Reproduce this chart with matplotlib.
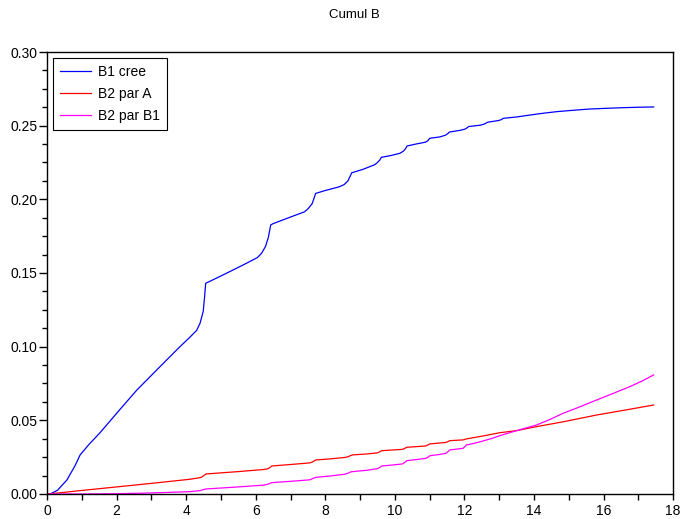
import matplotlib
matplotlib.use("Agg")
import matplotlib.pyplot as plt
from matplotlib.ticker import MultipleLocator, FormatStrFormatter

plt.rcParams['font.family'] = ['Liberation Sans', 'DejaVu Sans']

# B1 cree (blue)
x_b1 = [0.0, 0.09, 0.3, 0.57, 0.8, 0.95, 1.2, 1.52, 2.10, 2.58, 3.25, 3.8, 4.11, 4.30, 4.40,
        4.49, 4.53, 4.56, 5.0, 5.6, 6.05, 6.17, 6.28, 6.36, 6.43, 6.5, 7.0, 7.40, 7.50, 7.62,
        7.68, 7.72, 8.0, 8.40, 8.54, 8.65, 8.73, 8.76, 9.1, 9.42, 9.50, 9.57, 9.61, 9.9, 10.15,
        10.25, 10.31, 10.35, 10.6, 10.88, 10.95, 11.00, 11.3, 11.46, 11.53, 11.57, 11.87, 12.01,
        12.08, 12.12, 12.45, 12.56, 12.62, 12.66, 12.98, 13.06, 13.12, 13.5, 13.88, 14.25,
        14.65, 15.1, 15.6, 16.1, 16.56, 17.0, 17.44]
y_b1 = [0.0, 0.0, 0.0025, 0.0095, 0.019, 0.0265, 0.0335, 0.0415, 0.0575, 0.0705, 0.0865,
        0.0995, 0.1065, 0.111, 0.116, 0.124, 0.134, 0.143, 0.148, 0.155, 0.1605, 0.1635, 0.168,
        0.174, 0.1826, 0.1835, 0.188, 0.1915, 0.1935, 0.197, 0.201, 0.204, 0.206, 0.2085, 0.210,
        0.2125, 0.2165, 0.218, 0.2205, 0.2235, 0.2250, 0.2268, 0.2285, 0.2298, 0.2313, 0.2328,
        0.2345, 0.2362, 0.2375, 0.2388, 0.2398, 0.2414, 0.2424, 0.2436, 0.2448, 0.2457, 0.2468,
        0.2476, 0.2486, 0.2494, 0.2503, 0.2510, 0.2517, 0.2523, 0.2535, 0.2541, 0.2550, 0.2559,
        0.2572, 0.2584, 0.2595, 0.2604, 0.2613, 0.2618, 0.2622, 0.2625, 0.2627]

# B2 par A (red)
x_b2a = [0.0, 0.04, 1.0, 2.0, 3.0, 4.11, 4.40, 4.47, 4.52, 4.57, 5.5, 6.22, 6.33, 6.40,
         6.46, 7.0, 7.55, 7.62, 7.68, 7.73, 8.13, 8.56, 8.66, 8.72, 8.78, 9.2, 9.50, 9.56,
         9.62, 9.9, 10.22, 10.29, 10.34, 10.6, 10.89, 10.95, 11.01, 11.25, 11.47, 11.53,
         11.58, 11.96, 12.06, 12.54, 13.02, 13.5, 14.07, 14.84, 15.8, 16.75, 17.44]
y_b2a = [0.0, 0.0, 0.0024, 0.0048, 0.0072, 0.0100, 0.0111, 0.0118, 0.0128, 0.0136, 0.0152,
         0.0166, 0.0170, 0.0178, 0.0190, 0.0200, 0.0211, 0.0216, 0.0225, 0.0231, 0.0238,
         0.0248, 0.0253, 0.0260, 0.0265, 0.0272, 0.0279, 0.0286, 0.0294, 0.0298, 0.0303,
         0.0310, 0.0317, 0.0321, 0.0326, 0.0333, 0.0340, 0.0345, 0.0350, 0.0356, 0.0362,
         0.0367, 0.0374, 0.0394, 0.0416, 0.0430, 0.0457, 0.0490, 0.0536, 0.0575, 0.0604]

# B2 par B1 (magenta)
x_b2b = [0.0, 1.0, 1.5, 2.0, 2.67, 3.4, 4.11, 4.40, 4.48, 4.57, 5.5, 6.22, 6.33, 6.40, 6.46,
         7.0, 7.55, 7.63, 7.73, 8.13, 8.56, 8.66, 8.75, 9.2, 9.50, 9.57, 9.62, 9.9, 10.22,
         10.29, 10.34, 10.6, 10.89, 10.96, 11.01, 11.25, 11.47, 11.53, 11.58, 11.96, 12.06,
         12.3, 12.54, 12.8, 13.02, 13.5, 14.07, 14.45, 14.84, 15.3, 15.8, 16.3, 16.75, 17.1,
         17.44]
y_b2b = [0.0, 0.0, 0.0001, 0.0002, 0.0005, 0.0010, 0.0016, 0.0023, 0.0029, 0.0034, 0.0048,
         0.0060, 0.0065, 0.0071, 0.0077, 0.0086, 0.0096, 0.0104, 0.0113, 0.0122, 0.0134,
         0.0142, 0.0151, 0.0161, 0.0172, 0.0181, 0.0190, 0.0196, 0.0204, 0.0215, 0.0226,
         0.0233, 0.0242, 0.0251, 0.0260, 0.0267, 0.0276, 0.0288, 0.0299, 0.0310, 0.0333,
         0.0345, 0.0360, 0.0378, 0.0396, 0.0430, 0.0468, 0.0505, 0.0548, 0.0590, 0.0638,
         0.0685, 0.0728, 0.0766, 0.0808]

series_names = ["B1 cree", "B2 par A", "B2 par B1"]
title = "Cumul B"

fig = plt.figure(figsize=(6.82, 5.19), dpi=100)
ax = fig.add_axes([0.069, 0.0482, 0.918, 0.8516])

ax.plot(x_b1, y_b1, color="#0000ff", lw=0.9, label=series_names[0])
ax.plot(x_b2a, y_b2a, color="#ff0000", lw=0.9, label=series_names[1])
ax.plot(x_b2b, y_b2b, color="#ff00ff", lw=0.9, label=series_names[2])

ax.set_xlim(0, 18)
ax.set_ylim(0, 0.30)
ax.xaxis.set_major_locator(MultipleLocator(2))
ax.xaxis.set_minor_locator(MultipleLocator(1))
ax.yaxis.set_major_locator(MultipleLocator(0.05))
ax.yaxis.set_minor_locator(MultipleLocator(0.0125))
ax.yaxis.set_major_formatter(FormatStrFormatter("%.2f"))
ax.tick_params(which="both", direction="out", labelsize=10, top=False, right=False)
ax.tick_params(axis="y", which="major", length=5.5, width=1, pad=1.5)
ax.tick_params(axis="y", which="minor", length=3.5, width=1)
ax.tick_params(axis="x", which="both", length=4, width=1, pad=3)
for s in ax.spines.values():
    s.set_linewidth(1.0)
    s.set_color("black")

leg = ax.legend(loc="upper left", fontsize=10, frameon=True, fancybox=False,
                edgecolor="black", handlelength=2.25, handletextpad=0.5,
                borderaxespad=0.4, labelspacing=0.6, borderpad=0.5)
leg.get_frame().set_linewidth(0.8)
leg.get_frame().set_alpha(1)

fig.text(0.519, 0.972, title, ha="center", va="center", fontsize=9.5)

fig.savefig("out.png", dpi=100)
